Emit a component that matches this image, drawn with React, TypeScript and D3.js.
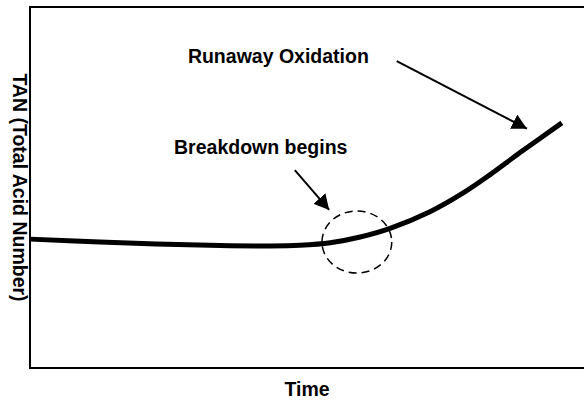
import React, { useRef, useEffect } from "react";
import * as d3 from "d3";

// TAN over time (arbitrary units, 0-100 on both axes)
const timeValues = [0, 12.6, 34.3, 43.3, 48.7, 54.2, 59.6, 65.0, 72.2, 78.2, 83.0, 88.4, 96.0];
const tanValues = [35.7, 34.9, 33.9, 33.8, 34.0, 34.7, 36.3, 38.7, 43.3, 48.5, 53.5, 59.6, 67.9];

const xLabel = "Time";
const yLabel = "TAN (Total Acid Number)";

// annotations: label anchor, arrow start -> arrow tip (data units)
const annotationLabels = ["Runaway Oxidation", "Breakdown begins"];
const labelX = [28.5, 26.0];
const labelY = [84.5, 59.4];
const arrowFrom = [
  [66.2, 85.0],
  [47.8, 54.8],
];
const arrowTo = [
  [89.7, 66.3],
  [54.0, 43.8],
];

// dashed "breakdown" ring around the knee of the curve
const ringCenter = [59.0, 34.9];
const ringRadius = [6.3, 8.6];

export default function App() {
  const svgRef = useRef<SVGSVGElement>(null);
  const width = 584;
  const height = 400;

  useEffect(() => {
    document.body.style.margin = "0";
    if (!svgRef.current) return;

    const svg = d3.select(svgRef.current);
    svg.selectAll("*").remove();

    const margin = { top: 7, right: 0, bottom: 32, left: 30 };
    const font = "'Liberation Sans', Arial, sans-serif";

    const x = d3.scaleLinear().domain([0, 100]).range([margin.left, width - margin.right]);
    const y = d3.scaleLinear().domain([0, 100]).range([height - margin.bottom, margin.top]);

    svg
      .append("defs")
      .append("marker")
      .attr("id", "head")
      .attr("markerUnits", "userSpaceOnUse")
      .attr("viewBox", "0 0 15 16")
      .attr("refX", 15)
      .attr("refY", 8)
      .attr("markerWidth", 15)
      .attr("markerHeight", 16)
      .attr("orient", "auto")
      .append("path")
      .attr("d", "M0,0 L15,8 L0,16 Z")
      .attr("fill", "#000");

    // frame (left, top, bottom)
    const frame = svg.append("g").attr("stroke", "#000").attr("stroke-width", 2);
    frame
      .append("line")
      .attr("x1", x(0))
      .attr("x2", x(0))
      .attr("y1", y(100))
      .attr("y2", y(0));
    frame
      .append("line")
      .attr("x1", x(0) - 1)
      .attr("x2", x(100))
      .attr("y1", y(100))
      .attr("y2", y(100));
    frame
      .append("line")
      .attr("x1", x(0) - 1)
      .attr("x2", x(100))
      .attr("y1", y(0))
      .attr("y2", y(0));

    // TAN curve
    const line = d3
      .line<number>()
      .x((d, i) => x(timeValues[i]))
      .y((d) => y(d))
      .curve(d3.curveCatmullRom.alpha(0.5));

    svg
      .append("path")
      .datum(tanValues)
      .attr("d", line)
      .attr("fill", "none")
      .attr("stroke", "#000")
      .attr("stroke-width", 5);

    // dashed ring
    svg
      .append("ellipse")
      .attr("cx", x(ringCenter[0]))
      .attr("cy", y(ringCenter[1]))
      .attr("rx", x(ringRadius[0]) - x(0))
      .attr("ry", y(0) - y(ringRadius[1]))
      .attr("fill", "none")
      .attr("stroke", "#000")
      .attr("stroke-width", 1.5)
      .attr("stroke-dasharray", "8,5");

    // arrows
    svg
      .append("g")
      .selectAll("line")
      .data(arrowFrom)
      .enter()
      .append("line")
      .attr("x1", (d) => x(d[0]))
      .attr("y1", (d) => y(d[1]))
      .attr("x2", (d, i) => x(arrowTo[i][0]))
      .attr("y2", (d, i) => y(arrowTo[i][1]))
      .attr("stroke", "#000")
      .attr("stroke-width", 2)
      .attr("marker-end", "url(#head)");

    // annotation text
    svg
      .append("g")
      .selectAll("text")
      .data(annotationLabels)
      .enter()
      .append("text")
      .attr("x", (d, i) => x(labelX[i]))
      .attr("y", (d, i) => y(labelY[i]))
      .attr("font-family", font)
      .attr("font-weight", "bold")
      .attr("font-size", "19.5px")
      .text((d) => d);

    // axis titles
    svg
      .append("text")
      .attr("x", x(50))
      .attr("y", 396)
      .attr("text-anchor", "middle")
      .attr("font-family", font)
      .attr("font-weight", "bold")
      .attr("font-size", "19.5px")
      .text(xLabel);

    svg
      .append("text")
      .attr("transform", `translate(12.5,${(y(100) + y(0)) / 2}) rotate(90)`)
      .attr("text-anchor", "middle")
      .attr("font-family", font)
      .attr("font-weight", "bold")
      .attr("font-size", "19.5px")
      .text(yLabel);
  }, []);

  return <svg ref={svgRef} width={width} height={height} style={{ display: "block" }}></svg>;
}
